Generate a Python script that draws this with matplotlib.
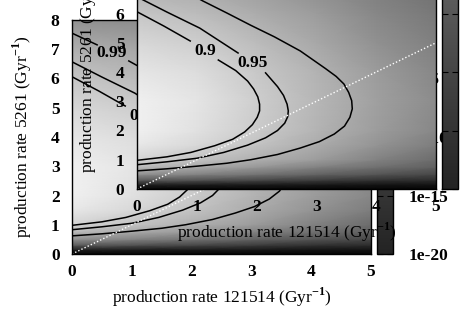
import numpy as np
import matplotlib
matplotlib.use("Agg")
import matplotlib.pyplot as plt
from matplotlib.colors import LogNorm, Normalize, LinearSegmentedColormap
from matplotlib.cm import ScalarMappable

plt.rcParams["font.family"] = ["Liberation Serif", "DejaVu Serif"]
plt.rcParams["font.weight"] = "bold"
plt.rcParams["font.size"] = 12.5
plt.rcParams["mathtext.fontset"] = "custom"
plt.rcParams["mathtext.rm"] = "Liberation Serif:bold"
plt.rcParams["mathtext.bf"] = "Liberation Serif:bold"

# background map: log10 of the likelihood
grid_x = [0, 1, 2, 3, 4, 5]
grid_y = [0, 0.15, 0.3, 0.5, 0.75, 1, 1.5, 2, 3, 4, 5, 6, 7, 8]
log_like = [
    [-19.6, -19.6, -19.6, -19.6, -19.6, -19.6],
    [-17.3, -17.6, -17.8, -18.0, -18.3, -18.4],
    [-12.9, -13.7, -14.5, -15.3, -16.1, -16.5],
    [-8.6, -9.8, -11.0, -12.2, -13.3, -14.4],
    [-5.5, -6.7, -8.2, -9.8, -11.2, -12.5],
    [-3.5, -4.7, -6.3, -7.8, -9.8, -11.5],
    [-1.8, -3.1, -4.7, -6.5, -8.4, -10.2],
    [-1.2, -2.4, -4.1, -5.9, -7.7, -9.4],
    [-1.2, -2.1, -3.9, -5.7, -7.5, -9.0],
    [-2.0, -2.7, -4.3, -6.0, -7.8, -9.4],
    [-3.1, -3.9, -5.3, -6.8, -8.6, -10.0],
    [-4.5, -5.3, -6.5, -7.8, -9.4, -10.6],
    [-6.3, -6.8, -7.8, -9.0, -10.2, -11.2],
    [-8.6, -9.0, -9.8, -10.6, -11.4, -12.2],
]

# confidence contours (nan = gap where the label sits)
nan = np.nan
c90_x = [0, 0.5, 0.9, 1.3, 1.6, 1.8, 1.93, 2.01, 2.05, 2.05, 2.02, 1.95, 1.85,
         1.65, 1.36, nan, 0.89, 0.45, 0]
c90_y = [0.98, 1.1, 1.25, 1.48, 1.7, 1.95, 2.2, 2.45, 2.67, 2.9, 3.15, 3.42, 3.69,
         4.05, 4.41, nan, 5.06, 5.57, 6.06]
c95_x = [0, 0.5, 1.0, 1.45, 1.85, 2.15, 2.35, 2.47, 2.52, 2.53, 2.51, 2.45, 2.35,
         2.15, nan, 1.69, 1.05, 0.5, 0]
c95_y = [0.83, 0.93, 1.05, 1.25, 1.5, 1.75, 2.0, 2.25, 2.47, 2.67, 2.9, 3.2, 3.5,
         3.97, nan, 4.65, 5.5, 6.05, 6.57]
c99_x = [0, 0.5, 1.0, 1.5, 1.9, 2.35, 2.73, 3.05, 3.3, 3.47, 3.56, 3.6, 3.59,
         3.54, 3.46, 3.33, 3.15, 2.73, 2.3, 1.9, 1.5, 1.1, 0.95, nan, 0.42, 0]
c99_y = [0.62, 0.69, 0.78, 0.88, 1.0, 1.18, 1.4, 1.62, 1.88, 2.15, 2.45, 2.74,
         3.02, 3.3, 3.59, 3.85, 4.12, 4.72, 5.2, 5.6, 6.02, 6.43, 6.6, nan, 7.15, 7.55]
level_names = ["0.9", "0.95", "0.99"]
label_x = [1.14, 1.93, 0.67]
label_y = [4.72, 4.31, 6.87]

diag_x = [0, 5]
diag_y = [0, 5]

cbar_ticks = [1e-20, 1e-15, 1e-10, 1e-5, 1]
cbar_labels = ["1e-20", "1e-15", "1e-10", "1e-5", "1"]

xlabel = r"production rate 121514 (Gyr$^{\mathbf{-1}}$)"
ylabel = r"production rate 5261 (Gyr$^{\mathbf{-1}}$)"

W, H = 463, 324
fig = plt.figure(figsize=(W / 100, H / 100), dpi=100)


def px_axes(left, top, right, bottom):
    return fig.add_axes([left / W, 1 - bottom / H, (right - left) / W, (bottom - top) / H])


cbar_cmap = LinearSegmentedColormap.from_list("cb", ["#232323", "#686868"])


def draw_panel(left, top):
    ax = px_axes(left, top, left + 299, top + 234)
    ax.pcolormesh(grid_x, grid_y, np.array(log_like), shading="gouraud",
                  cmap="gray", norm=Normalize(-20, 0), rasterized=True)
    for cx, cy in [(c90_x, c90_y), (c95_x, c95_y), (c99_x, c99_y)]:
        ax.plot(cx, cy, color="black", lw=1.1, solid_joinstyle="round")
    for name, lx, ly in zip(level_names, label_x, label_y):
        ax.text(lx, ly, name, ha="center", va="center", fontsize=12.5)
    ax.plot(diag_x, diag_y, color="white", lw=1.0, ls=(0, (1, 1.5)))
    ax.set_xlim(0, 5)
    ax.set_ylim(0, 8)
    ax.set_xticks(range(6))
    ax.set_yticks(range(9))
    ax.tick_params(length=0, labelsize=12.5)
    ax.tick_params(axis="x", pad=7)
    ax.tick_params(axis="y", pad=9)
    ax.set_xlabel(xlabel, fontsize=12.5)
    ax.set_ylabel(ylabel, fontsize=12.5)
    ax.xaxis.set_label_coords(0.5, -0.135)
    ax.yaxis.set_label_coords(-0.128, 0.5)
    for s in ax.spines.values():
        s.set_linewidth(1.0)

    cax = px_axes(left + 305, top, left + 321, top + 234)
    sm = ScalarMappable(norm=LogNorm(1e-20, 1), cmap=cbar_cmap)
    cb = fig.colorbar(sm, cax=cax)
    cb.minorticks_off()
    cb.set_ticks(cbar_ticks)
    cb.set_ticklabels(cbar_labels)
    cax.tick_params(direction="in", length=4, width=0.8, pad=11,
                    left=True, right=True, labelsize=12.5)
    cb.outline.set_linewidth(1.0)


# gnuplot multiplot: same plot drawn twice, the second shifted up-right
draw_panel(72, 20)
draw_panel(137, -45)

fig.savefig("out.png", dpi=100)
